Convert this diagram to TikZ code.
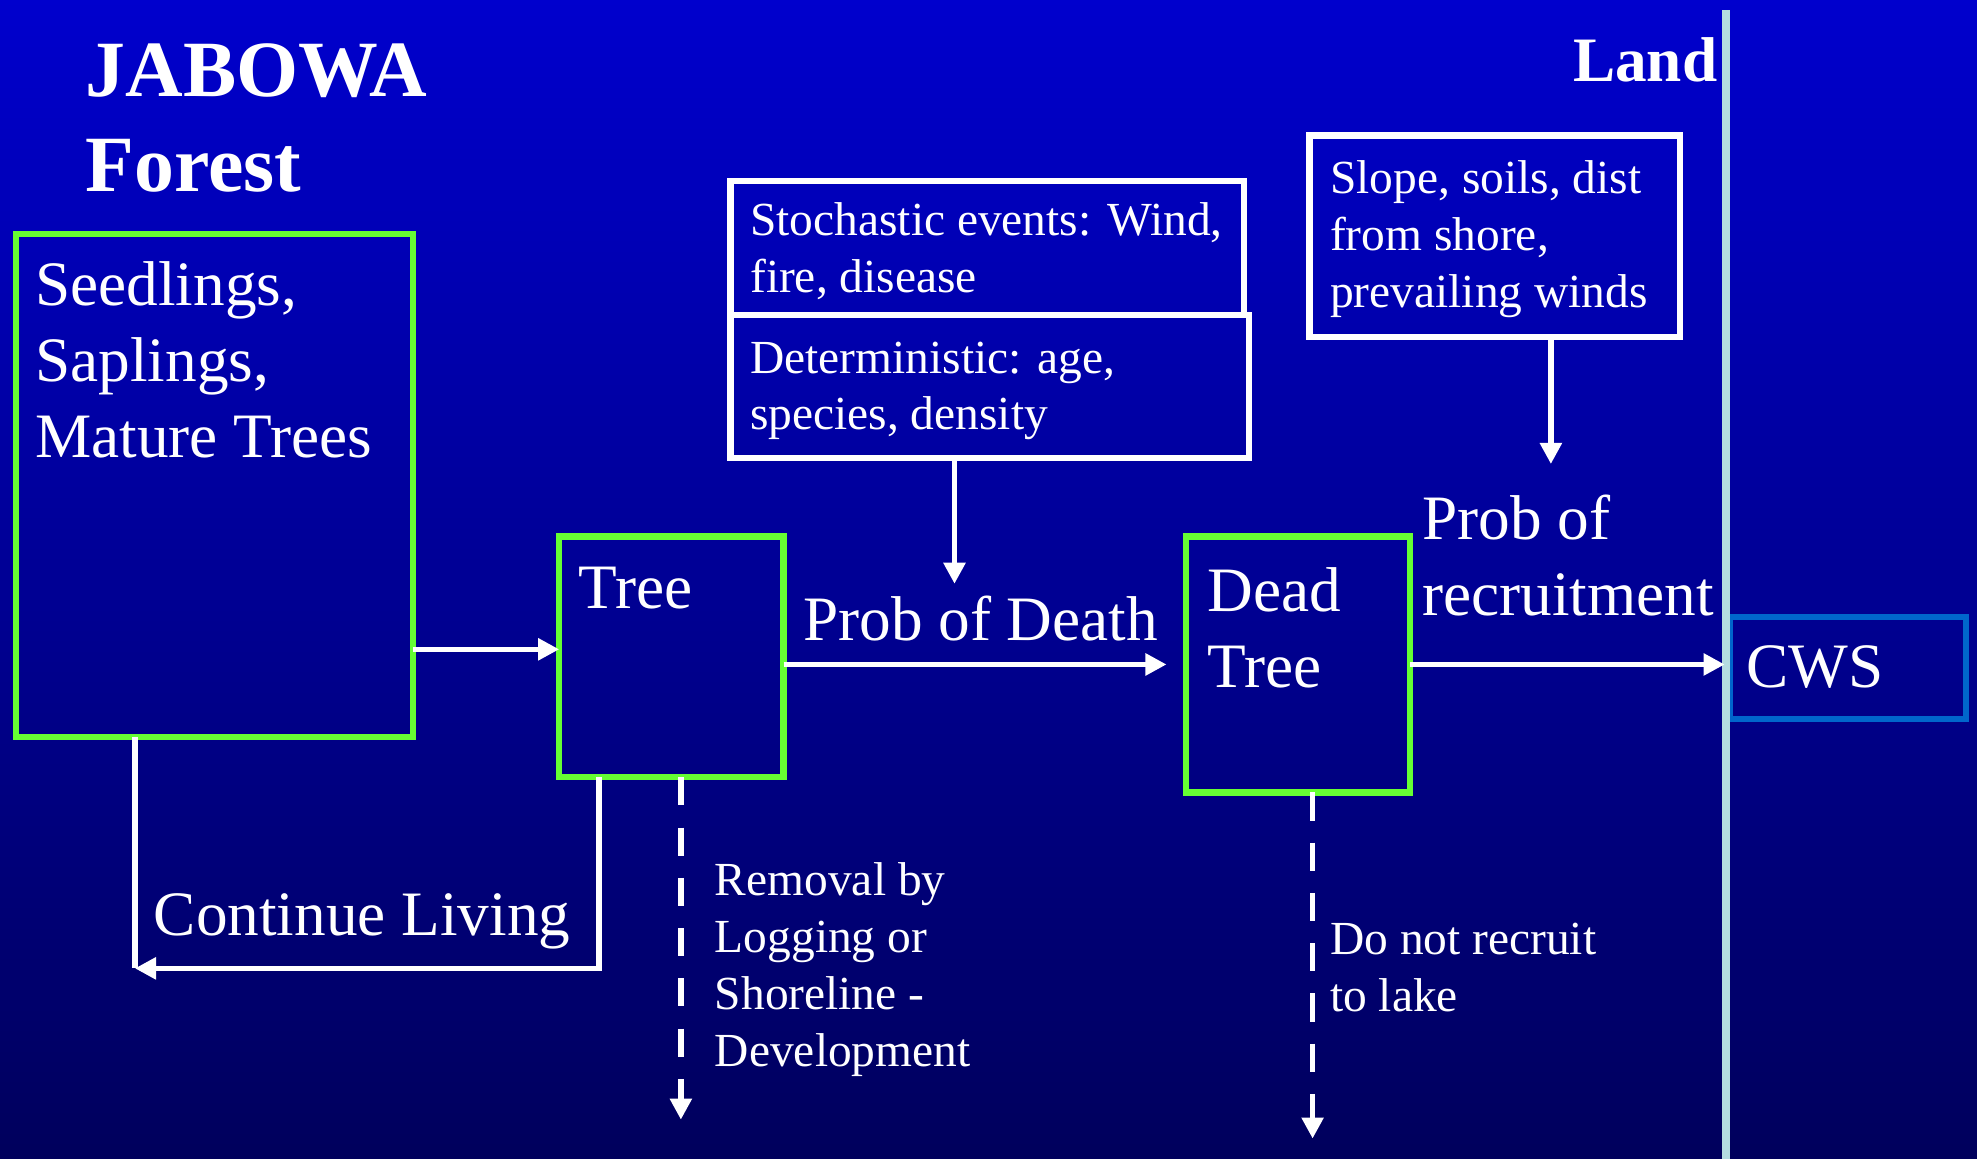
\documentclass[tikz,border=0pt]{standalone}
\usepackage{fontspec}
\setmainfont{Liberation Serif}
\usetikzlibrary{arrows.meta}
\definecolor{bgtop}{RGB}{0,0,205}
\definecolor{bgbottom}{RGB}{0,0,92}
\definecolor{boxgreen}{RGB}{102,255,51}
\definecolor{cwsblue}{RGB}{0,102,204}
\definecolor{shore}{RGB}{180,220,224}

\begin{document}
\begin{tikzpicture}[scale=0.12608,
	every node/.style={inner sep=0pt, outer sep=0pt, text=white, align=left},
	bigtext/.style={font=\fontsize{18}{21.6}\selectfont},
	smalltext/.style={font=\fontsize{13.5}{16.2}\selectfont},
	greenbox/.style={draw=boxgreen, line width=1.8pt, anchor=north west},
	whitebox/.style={draw=white, line width=1.8pt, anchor=north west},
	arr/.style={draw=white, line width=1.5pt, -{Triangle[length=6pt,width=6pt]}},
	dasharr/.style={arr, dash pattern=on 8pt off 6.3pt}]
	\useasboundingbox (0,0) rectangle (156.8,-91.9);
	\shade [top color=bgtop, bottom color=bgbottom] (0,0) rectangle (156.8,-91.9);
	% boxes
	\node [draw=cwsblue, line width=1.8pt, anchor=north west, minimum width=2.364cm, minimum height=1.021cm] (cws) at (137.2,-48.95) {};
	\draw [shore, line width=2.1pt] (136.9,-0.8) -- (136.9,-91.9);
	\node [greenbox, minimum width=3.972cm, minimum height=5.031cm] (seed) at (1.25,-18.55) {};
	\node [greenbox, minimum width=2.244cm, minimum height=2.408cm] (tree) at (44.35,-42.55) {};
	\node [greenbox, minimum width=2.244cm, minimum height=2.559cm] (dead) at (94.05,-42.55) {};
	\node [whitebox, minimum width=5.131cm, minimum height=1.343cm] (stoch) at (57.95,-14.35) {};
	\node [whitebox, minimum width=5.182cm, minimum height=1.431cm] (determ) at (57.95,-25.0) {};
	\node [whitebox, minimum width=3.707cm, minimum height=2.017cm] (slope) at (103.85,-10.75) {};
	% arrows
	\coordinate (deathin) at (75.7,-46.3);
	\coordinate (recin) at (123,-36.8);
	\coordinate (livturn) at (47.5,-76.8);
	\coordinate (livcorner) at (10.7,-76.8);
	\coordinate (removal) at (54,-88.8);
	\coordinate (norecruit) at (104.1,-90.3);
	\draw [arr] (seed.east |- 0,-51.5) -- (tree.west |- 0,-51.5);
	\draw [arr, shorten >=5.5pt] (tree.east |- dead.west) -- (dead.west);
	\draw [arr, shorten >=1.5pt] (dead.east) -- (cws.west |- dead.east);
	\draw [arr] (determ.south -| deathin) -- (deathin);
	\draw [arr] (slope.south -| recin) -- (recin);
	\draw [white, line width=1.5pt] (seed.south -| livcorner) -- (livcorner);
	\draw [arr] (tree.south -| livturn) -- (livturn) -- (livcorner);
	\draw [dasharr] (tree.south -| removal) -- (removal);
	\draw [dasharr] (dead.south -| norecruit) -- (norecruit);
	% texts (base = last line)
	\node [anchor=base west, font=\fontsize{22.7}{27}\selectfont\bfseries] (title) at (6.8,-15.2) {JABOWA\\Forest};
	\node [anchor=base east, font=\fontsize{18}{21.6}\selectfont\bfseries] (land) at (136.2,-6.5) {Land};
	\node [bigtext, anchor=base west] (seedtext) at (2.8,-36.3) {Seedlings,\\Saplings,\\Mature Trees};
	\node [bigtext, anchor=base west] (treetext) at (45.9,-48.3) {Tree};
	\node [bigtext, anchor=base west] (deadtext) at (95.8,-54.5) {Dead\\Tree};
	\node [bigtext, anchor=base west] (deathlbl) at (63.7,-50.8) {Prob of Death};
	\node [bigtext, anchor=base west] (reclbl) at (112.8,-48.8) {Prob of\\recruitment};
	\node [bigtext, anchor=base west] (cwstext) at (138.5,-54.5) {CWS};
	\node [bigtext, anchor=base west] (livlbl) at (12.2,-74.2) {Continue Living};
	\node [smalltext, anchor=base west] (stochtext) at (59.5,-23.2) {Stochastic events: Wind,\\fire, disease};
	\node [smalltext, anchor=base west] (determtext) at (59.5,-34.1) {Deterministic: age,\\species, density};
	\node [smalltext, anchor=base west] (slopetext) at (105.5,-24.4) {Slope, soils, dist\\from shore,\\prevailing winds};
	\node [smalltext, anchor=base west] (removaltext) at (56.7,-84.6) {Removal by\\Logging or\\Shoreline -\\Development};
	\node [smalltext, anchor=base west] (norecruittext) at (105.5,-80.2) {Do not recruit\\to lake};
\end{tikzpicture}
\end{document}
